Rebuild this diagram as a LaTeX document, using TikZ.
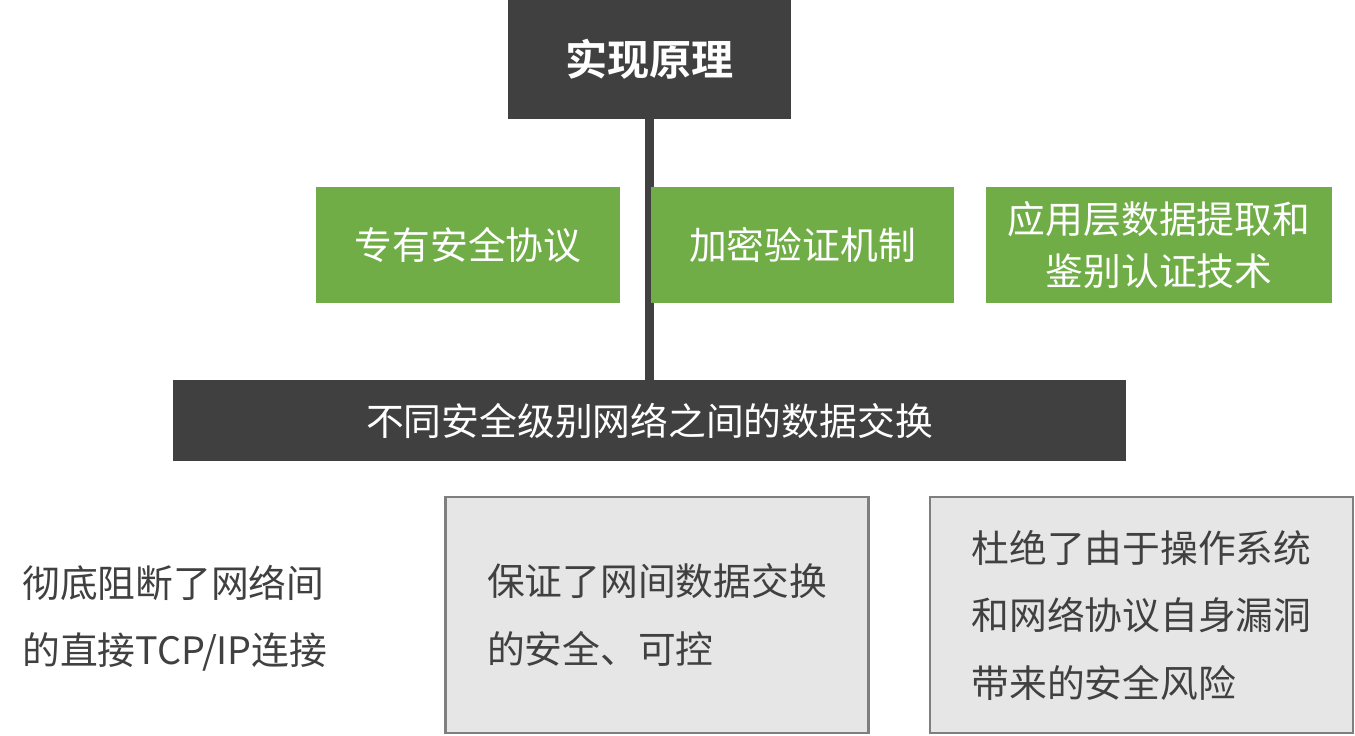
\documentclass[tikz,border=0pt]{standalone}
\usepackage{fontspec}
\setmainfont{Noto Sans CJK SC}[BoldFont={Noto Sans CJK SC Bold}]
\usepackage{tikz}
\definecolor{darkbar}{HTML}{404040}
\definecolor{leafgreen}{HTML}{70AD47}
\definecolor{boxgray}{HTML}{E7E6E6}
\definecolor{rimgray}{HTML}{7F7F7F}

\begin{document}
\begin{tikzpicture}[x=0.02cm, y=-0.02cm,
    darkbox/.style={fill=darkbar, text=white, inner sep=0pt},
    greenbox/.style={fill=leafgreen, text=white, inner sep=0pt, minimum height=2.32cm, align=center,
        font=\fontsize{21.5}{30}\selectfont},
    graybox/.style={fill=boxgray, draw=rimgray, line width=1.2pt, text=darkbar, inner sep=0pt,
        minimum width=8.46cm, minimum height=4.72cm, align=left, font=\fontsize{21.5}{38.4}\selectfont}]
    \useasboundingbox (0,0) rectangle (1355,735);
    % title and base bar
    \node[darkbox, minimum width=5.66cm, minimum height=2.38cm, font=\fontsize{24}{28}\selectfont\bfseries]
        (title) at (649.5,59.5) {实现原理};
    \node[darkbox, minimum width=19.06cm, minimum height=1.62cm, font=\fontsize{21.5}{28}\selectfont]
        (bar) at (649.5,420.5) {不同安全级别网络之间的数据交换};
    \draw[darkbar, line width=0.18cm] (title.south) -- (bar.north);
    % the three techniques
    \node[greenbox, minimum width=6.08cm] (proto) at (468,245) {专有安全协议};
    \node[greenbox, minimum width=6.06cm] (crypt) at (802.5,245) {加密验证机制};
    \node[greenbox, minimum width=6.92cm] (appl) at (1159,245) {应用层数据提取和\\鉴别认证技术};
    % effects
    \node[text=darkbar, anchor=west, inner sep=0pt, align=left, font=\fontsize{21.5}{38.4}\selectfont]
        (cut) at (22,618.5) {彻底阻断了网络间\\的直接TCP/IP连接};
    \node[graybox] (safe) at (657,615) {保证了网间数据交换\\的安全、可控};
    \node[graybox] (risk) at (1141.5,615) {杜绝了由于操作系统\\和网络协议自身漏洞\\带来的安全风险};
\end{tikzpicture}
\end{document}
